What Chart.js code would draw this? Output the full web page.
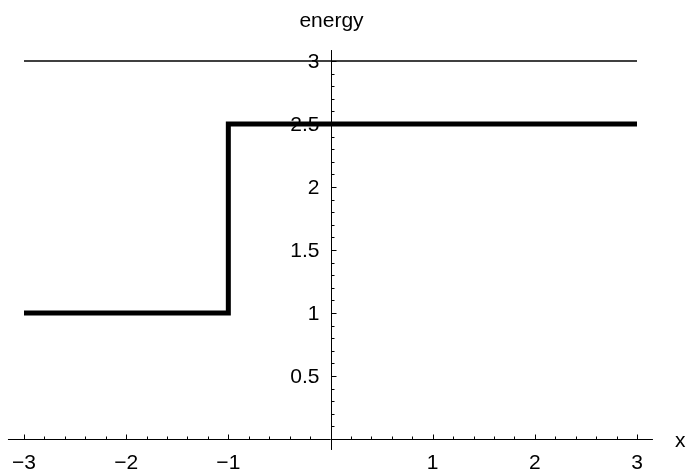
<!DOCTYPE html>
<html>
<head>
<meta charset="utf-8">
<script src="https://cdn.jsdelivr.net/npm/chart.js@4"></script>
<style>
  html, body { margin: 0; padding: 0; background: #fff; }
  #chart { display: block; }
</style>
</head>
<body>
<canvas id="chart" width="688" height="473"></canvas>
<script>
// step curve (energy vs x) and the flat level at the top
const stepX = [-3, -1, 3];
const stepEnergy = [1, 2.5, 2.5];
const levelX = [-3, 3];
const levelEnergy = [3, 3];

// axis ticks
const xTicks = [-3, -2, -1, 1, 2, 3];
const xTickLabels = ['\u22123', '\u22122', '\u22121', '1', '2', '3'];
const yTicks = [0.5, 1, 1.5, 2, 2.5, 3];
const yTickLabels = ['0.5', '1', '1.5', '2', '2.5', '3'];

const FONT = '21px "Liberation Sans", Arial, sans-serif';

const crossAxes = {
  id: 'crossAxes',
  beforeDatasetsDraw(chart) {
    const { ctx, scales: { x, y } } = chart;
    const x0 = Math.round(x.getPixelForValue(0)) + 0.5;
    const y0 = Math.round(y.getPixelForValue(0)) + 0.5;
    ctx.save();
    ctx.strokeStyle = '#000';
    ctx.lineWidth = 1;

    // axis lines, running a little past the plot range
    ctx.beginPath();
    ctx.moveTo(x.getPixelForValue(-3.157), y0);
    ctx.lineTo(x.getPixelForValue(3.156), y0);
    ctx.moveTo(x0, y.getPixelForValue(3.087));
    ctx.lineTo(x0, y.getPixelForValue(-0.087));
    ctx.stroke();

    // x ticks: majors every 1, minors every 0.2, pointing up
    ctx.beginPath();
    for (let i = -15; i <= 15; i++) {
      if (i === 0) continue;
      const px = Math.round(x.getPixelForValue(i * 0.2)) + 0.5;
      const len = i % 5 === 0 ? 5 : 3;
      ctx.moveTo(px, y0);
      ctx.lineTo(px, y0 - len);
    }
    // y ticks: majors every 0.5, minors every 0.1, pointing right
    for (let i = 1; i <= 30; i++) {
      const py = Math.round(y.getPixelForValue(i * 0.1)) + 0.5;
      const len = i % 5 === 0 ? 5 : 3;
      ctx.moveTo(x0, py);
      ctx.lineTo(x0 + len, py);
    }
    ctx.stroke();

    // tick labels
    ctx.fillStyle = '#000';
    ctx.font = FONT;
    ctx.textBaseline = 'alphabetic';
    ctx.textAlign = 'center';
    xTicks.forEach((v, i) => {
      ctx.fillText(xTickLabels[i], x.getPixelForValue(v), y0 + 29);
    });
    ctx.textAlign = 'right';
    yTicks.forEach((v, i) => {
      ctx.fillText(yTickLabels[i], x0 - 12, y.getPixelForValue(v) + 7);
    });

    // axis titles
    ctx.textAlign = 'center';
    ctx.fillText('energy', x0, 27);
    ctx.textAlign = 'left';
    ctx.fillText('x', 675, y0 + 7);
    ctx.restore();
  },
};

new Chart(document.getElementById('chart'), {
  type: 'line',
  data: {
    datasets: [
      {
        label: 'energy',
        data: stepX.map((v, i) => ({ x: v, y: stepEnergy[i] })),
        stepped: true,
        borderColor: '#000',
        borderWidth: 5,
        borderJoinStyle: 'miter',
        borderCapStyle: 'butt',
        pointRadius: 0,
        fill: false,
        clip: 6,
      },
      {
        label: 'level',
        data: levelX.map((v, i) => ({ x: v, y: levelEnergy[i] })),
        borderColor: '#000',
        borderWidth: 1.3,
        pointRadius: 0,
        fill: false,
        clip: 6,
      },
    ],
  },
  options: {
    responsive: false,
    animation: false,
    layout: { padding: { left: 24, right: 51, top: 61, bottom: 34 } },
    plugins: {
      legend: { display: false },
      tooltip: { enabled: false },
    },
    scales: {
      x: { type: 'linear', min: -3, max: 3, display: false },
      y: { type: 'linear', min: 0, max: 3, display: false },
    },
  },
  plugins: [crossAxes],
});
</script>
</body>
</html>
